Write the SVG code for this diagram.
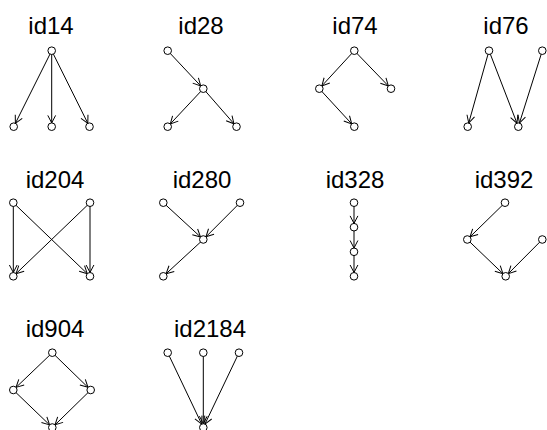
<svg xmlns="http://www.w3.org/2000/svg" width="547" height="430" viewBox="0 0 547 430">
  <style>
    .title { font-family: "Liberation Sans", Arial, sans-serif; font-size: 24px; fill: #000; text-anchor: middle; }
    .edge { stroke: #000; stroke-width: 1; fill: none; marker-end: url(#arrow); }
    .node circle { fill: #fff; stroke: #000; stroke-width: 1; }
  </style>
  <defs>
    <!-- open V arrowhead; tip sits on the target circle's rim (r = 3.8) -->
    <marker id="arrow" markerUnits="userSpaceOnUse" markerWidth="20" markerHeight="20" refX="0" refY="0" orient="auto" overflow="visible">
      <path d="M-11.3,-3.9 L-3.8,0 L-11.3,3.9" fill="none" stroke="#000" stroke-width="1"/>
    </marker>
  </defs>

  <rect width="547" height="430" fill="#fff"/>

  <!-- panel titles -->
  <g id="titles">
    <text class="title" x="51" y="34">id14</text>
    <text class="title" x="201" y="34">id28</text>
    <text class="title" x="355" y="34">id74</text>
    <text class="title" x="506" y="34">id76</text>
    <text class="title" x="55" y="188">id204</text>
    <text class="title" x="202" y="188">id280</text>
    <text class="title" x="355" y="188">id328</text>
    <text class="title" x="504" y="188">id392</text>
    <text class="title" x="55" y="337">id904</text>
    <text class="title" x="210" y="337">id2184</text>
  </g>

  <!-- connectors: drawn centre to centre, circles cover the line ends -->
  <g id="connectors">
    <!-- id14 -->
    <line class="edge" x1="51.7" y1="50.7" x2="13.7" y2="126.7"/>
    <line class="edge" x1="51.7" y1="50.7" x2="51.7" y2="126.7"/>
    <line class="edge" x1="51.7" y1="50.7" x2="89.5" y2="126.7"/>
    <!-- id28 -->
    <line class="edge" x1="167.7" y1="50.7" x2="203.3" y2="88.7"/>
    <line class="edge" x1="203.3" y1="88.7" x2="167.7" y2="126.7"/>
    <line class="edge" x1="203.3" y1="88.7" x2="236.5" y2="126.7"/>
    <!-- id74 -->
    <line class="edge" x1="354.3" y1="50.7" x2="319.3" y2="88.7"/>
    <line class="edge" x1="354.3" y1="50.7" x2="391" y2="88.7"/>
    <line class="edge" x1="319.3" y1="88.7" x2="354.3" y2="126.7"/>
    <!-- id76 -->
    <line class="edge" x1="489" y1="50.7" x2="467.7" y2="126.7"/>
    <line class="edge" x1="489" y1="50.7" x2="518.3" y2="126.7"/>
    <line class="edge" x1="542.3" y1="50.7" x2="518.3" y2="126.7"/>
    <!-- id204 -->
    <line class="edge" x1="13.3" y1="202.7" x2="13.3" y2="276.3"/>
    <line class="edge" x1="13.3" y1="202.7" x2="90" y2="276.3"/>
    <line class="edge" x1="90" y1="202.7" x2="13.3" y2="276.3"/>
    <line class="edge" x1="90" y1="202.7" x2="90" y2="276.3"/>
    <!-- id280 -->
    <line class="edge" x1="163.3" y1="202.7" x2="203.3" y2="239.5"/>
    <line class="edge" x1="240" y1="202.7" x2="203.3" y2="239.5"/>
    <line class="edge" x1="203.3" y1="239.5" x2="163.3" y2="276.3"/>
    <!-- id328 -->
    <line class="edge" x1="354" y1="202.7" x2="354" y2="227.2"/>
    <line class="edge" x1="354" y1="227.2" x2="354" y2="251.8"/>
    <line class="edge" x1="354" y1="251.8" x2="354" y2="276.3"/>
    <!-- id392 -->
    <line class="edge" x1="505" y1="202.7" x2="467.3" y2="239.5"/>
    <line class="edge" x1="467.3" y1="239.5" x2="505.7" y2="276.3"/>
    <line class="edge" x1="542.3" y1="239.5" x2="505.7" y2="276.3"/>
    <!-- id904 -->
    <line class="edge" x1="52.3" y1="352.7" x2="13.3" y2="390"/>
    <line class="edge" x1="52.3" y1="352.7" x2="90.7" y2="390"/>
    <line class="edge" x1="13.3" y1="390" x2="52.3" y2="427.5"/>
    <line class="edge" x1="90.7" y1="390" x2="52.3" y2="427.5"/>
    <!-- id2184 -->
    <line class="edge" x1="167.7" y1="352.7" x2="203.3" y2="427.5"/>
    <line class="edge" x1="203.3" y1="352.7" x2="203.3" y2="427.5"/>
    <line class="edge" x1="239" y1="352.7" x2="203.3" y2="427.5"/>
  </g>

  <!-- nodes -->
  <g id="id14" class="node">
    <circle cx="51.7" cy="50.7" r="3.8"/>
    <circle cx="13.7" cy="126.7" r="3.8"/>
    <circle cx="51.7" cy="126.7" r="3.8"/>
    <circle cx="89.5" cy="126.7" r="3.8"/>
  </g>
  <g id="id28" class="node">
    <circle cx="167.7" cy="50.7" r="3.8"/>
    <circle cx="203.3" cy="88.7" r="3.8"/>
    <circle cx="167.7" cy="126.7" r="3.8"/>
    <circle cx="236.5" cy="126.7" r="3.8"/>
  </g>
  <g id="id74" class="node">
    <circle cx="354.3" cy="50.7" r="3.8"/>
    <circle cx="319.3" cy="88.7" r="3.8"/>
    <circle cx="391" cy="88.7" r="3.8"/>
    <circle cx="354.3" cy="126.7" r="3.8"/>
  </g>
  <g id="id76" class="node">
    <circle cx="489" cy="50.7" r="3.8"/>
    <circle cx="542.3" cy="50.7" r="3.8"/>
    <circle cx="467.7" cy="126.7" r="3.8"/>
    <circle cx="518.3" cy="126.7" r="3.8"/>
  </g>
  <g id="id204" class="node">
    <circle cx="13.3" cy="202.7" r="3.8"/>
    <circle cx="90" cy="202.7" r="3.8"/>
    <circle cx="13.3" cy="276.3" r="3.8"/>
    <circle cx="90" cy="276.3" r="3.8"/>
  </g>
  <g id="id280" class="node">
    <circle cx="163.3" cy="202.7" r="3.8"/>
    <circle cx="240" cy="202.7" r="3.8"/>
    <circle cx="203.3" cy="239.5" r="3.8"/>
    <circle cx="163.3" cy="276.3" r="3.8"/>
  </g>
  <g id="id328" class="node">
    <circle cx="354" cy="202.7" r="3.8"/>
    <circle cx="354" cy="227.2" r="3.8"/>
    <circle cx="354" cy="251.8" r="3.8"/>
    <circle cx="354" cy="276.3" r="3.8"/>
  </g>
  <g id="id392" class="node">
    <circle cx="505" cy="202.7" r="3.8"/>
    <circle cx="467.3" cy="239.5" r="3.8"/>
    <circle cx="542.3" cy="239.5" r="3.8"/>
    <circle cx="505.7" cy="276.3" r="3.8"/>
  </g>
  <g id="id904" class="node">
    <circle cx="52.3" cy="352.7" r="3.8"/>
    <circle cx="13.3" cy="390" r="3.8"/>
    <circle cx="90.7" cy="390" r="3.8"/>
    <circle cx="52.3" cy="427.5" r="3.8"/>
  </g>
  <g id="id2184" class="node">
    <circle cx="167.7" cy="352.7" r="3.8"/>
    <circle cx="203.3" cy="352.7" r="3.8"/>
    <circle cx="239" cy="352.7" r="3.8"/>
    <circle cx="203.3" cy="427.5" r="3.8"/>
  </g>
</svg>
